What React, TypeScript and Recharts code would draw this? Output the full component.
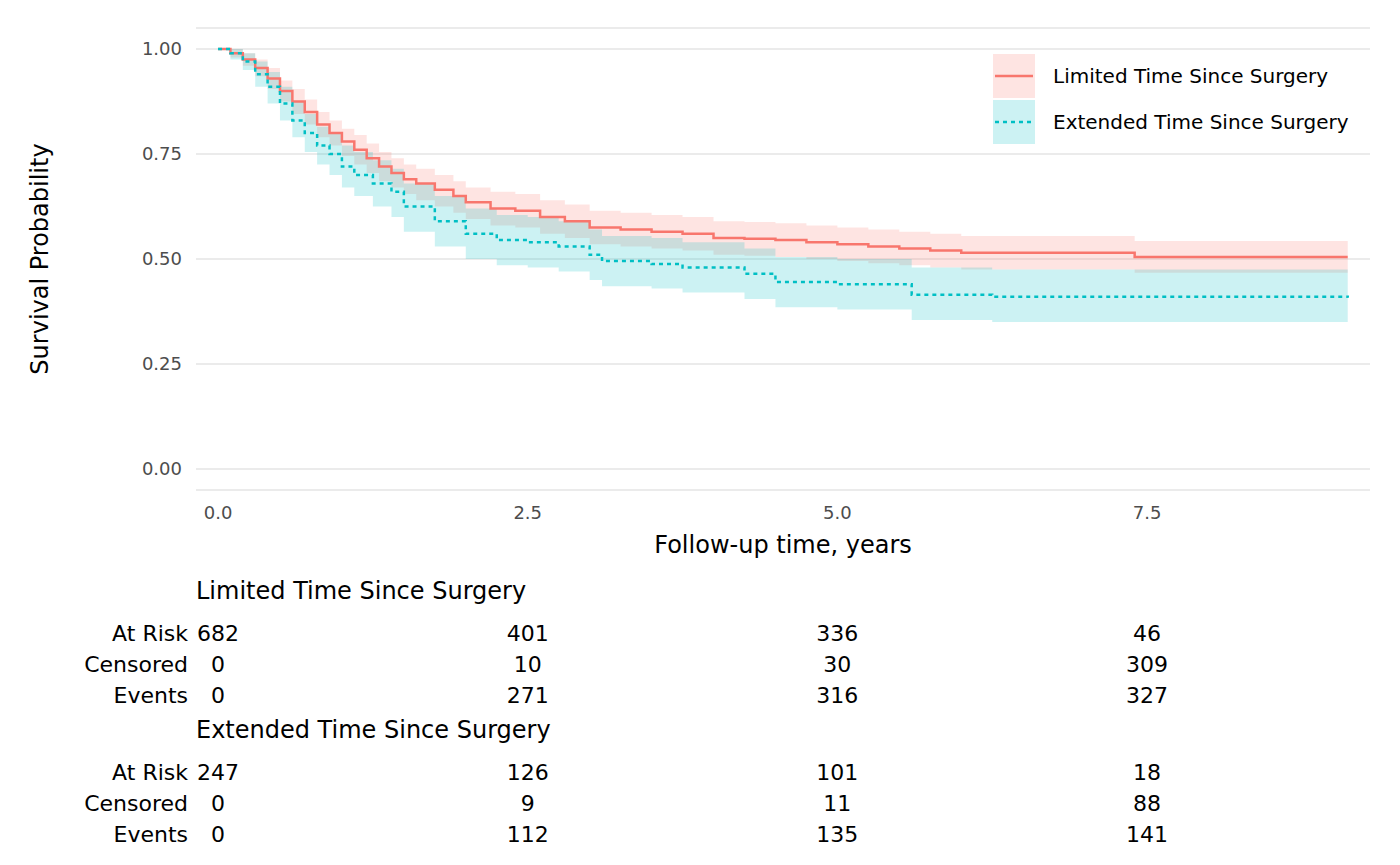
import { Area, ComposedChart, CartesianGrid, Line, XAxis, YAxis } from "recharts";

const limTime = [0, 0.1, 0.2, 0.3, 0.4, 0.5, 0.6, 0.7, 0.8, 0.9, 1.0, 1.1, 1.2, 1.3, 1.4, 1.5, 1.6, 1.75, 1.9, 2.0, 2.2, 2.4, 2.6, 2.8, 3.0, 3.25, 3.5, 3.75, 4.0, 4.25, 4.5, 4.75, 5.0, 5.25, 5.5, 5.75, 6.0, 6.5, 7.4, 9.12];
const limSurv = [1, 0.99, 0.975, 0.955, 0.93, 0.9, 0.875, 0.85, 0.82, 0.8, 0.78, 0.76, 0.74, 0.72, 0.705, 0.69, 0.68, 0.665, 0.65, 0.635, 0.62, 0.615, 0.6, 0.59, 0.575, 0.57, 0.565, 0.56, 0.55, 0.548, 0.545, 0.54, 0.535, 0.53, 0.525, 0.52, 0.515, 0.515, 0.505, 0.505];
const limLo = [1, 0.98, 0.96, 0.935, 0.905, 0.875, 0.845, 0.82, 0.79, 0.77, 0.745, 0.725, 0.705, 0.685, 0.67, 0.655, 0.64, 0.625, 0.61, 0.595, 0.58, 0.575, 0.56, 0.55, 0.535, 0.53, 0.525, 0.52, 0.51, 0.508, 0.505, 0.5, 0.495, 0.49, 0.485, 0.48, 0.475, 0.475, 0.467, 0.467];
const limHi = [1, 1, 0.99, 0.975, 0.955, 0.925, 0.905, 0.88, 0.85, 0.83, 0.81, 0.795, 0.775, 0.755, 0.74, 0.725, 0.715, 0.7, 0.685, 0.67, 0.66, 0.655, 0.64, 0.63, 0.615, 0.61, 0.605, 0.6, 0.59, 0.588, 0.585, 0.58, 0.575, 0.57, 0.565, 0.56, 0.555, 0.555, 0.543, 0.543];

const extTime = [0, 0.1, 0.2, 0.3, 0.4, 0.5, 0.6, 0.7, 0.8, 0.9, 1.0, 1.1, 1.25, 1.4, 1.5, 1.75, 2.0, 2.25, 2.5, 2.75, 3.0, 3.1, 3.5, 3.75, 4.25, 4.5, 5.0, 5.6, 6.25, 9.12];
const extSurv = [1, 0.99, 0.97, 0.94, 0.91, 0.87, 0.83, 0.8, 0.77, 0.75, 0.72, 0.7, 0.68, 0.66, 0.625, 0.59, 0.56, 0.545, 0.54, 0.53, 0.51, 0.495, 0.488, 0.48, 0.465, 0.445, 0.44, 0.415, 0.41, 0.408];
const extLo = [1, 0.975, 0.95, 0.91, 0.87, 0.83, 0.79, 0.755, 0.725, 0.7, 0.67, 0.65, 0.625, 0.6, 0.565, 0.53, 0.5, 0.485, 0.48, 0.47, 0.45, 0.435, 0.43, 0.42, 0.405, 0.385, 0.38, 0.355, 0.35, 0.35];
const extHi = [1, 1, 0.99, 0.97, 0.945, 0.91, 0.875, 0.845, 0.815, 0.8, 0.77, 0.755, 0.735, 0.715, 0.68, 0.65, 0.62, 0.605, 0.6, 0.59, 0.57, 0.555, 0.55, 0.54, 0.525, 0.505, 0.5, 0.48, 0.475, 0.475];

const xTicks = [0, 2.5, 5, 7.5];
const yTicks = [0, 0.25, 0.5, 0.75, 1];
const groups = ["Limited Time Since Surgery", "Extended Time Since Surgery"];
const rowLabels = ["At Risk", "Censored", "Events"];
const limTable = [[682, 401, 336, 46], [0, 10, 30, 309], [0, 271, 316, 327]];
const extTable = [[247, 126, 101, 18], [0, 9, 11, 88], [0, 112, 135, 141]];

const RED = "#F8766D";
const CYAN = "#00BFC4";
const FONT = "'DejaVu Sans', sans-serif";

const build = (t: number[], s: number[], lo: number[], hi: number[]) =>
  t.map((x, i) => ({ t: x, s: s[i], ci: [lo[i], hi[i]] }));

const limData = build(limTime, limSurv, limLo, limHi);
const extData = build(extTime, extSurv, extLo, extHi);

// x pixel of a time value (0 at 218, 7.5 at 1147)
const px = (v: number) => 218 + (v * (1147 - 218)) / 7.5;

export default function App() {
  const tables = [limTable, extTable];
  return (
    <div style={{ position: "relative", width: 1400, height: 865, margin: -8, fontFamily: FONT, background: "#fff" }}>
      <ComposedChart width={1400} height={560} margin={{ top: 28, right: 30, left: 0, bottom: 0 }}>
        <CartesianGrid stroke="#ebebeb" strokeWidth={2} vertical={false} />
        <XAxis
          type="number"
          dataKey="t"
          domain={[-0.178, 9.3]}
          ticks={xTicks}
          tickFormatter={(v) => Number(v).toFixed(1)}
          axisLine={false}
          tickLine={false}
          tickSize={0}
          tickMargin={16}
          height={70}
          allowDataOverflow
          tick={{ fontSize: 18, fill: "#4d4d4d", fontFamily: FONT }}
        />
        <YAxis
          type="number"
          domain={[-0.05, 1.05]}
          ticks={yTicks}
          tickFormatter={(v) => Number(v).toFixed(2)}
          axisLine={false}
          tickLine={false}
          tickSize={0}
          tickMargin={14}
          width={196}
          allowDataOverflow
          tick={{ fontSize: 18, fill: "#4d4d4d", fontFamily: FONT }}
        />
        <Area data={limData} dataKey="ci" type="stepAfter" stroke="none" fill={RED} fillOpacity={0.2} isAnimationActive={false} />
        <Area data={extData} dataKey="ci" type="stepAfter" stroke="none" fill={CYAN} fillOpacity={0.2} isAnimationActive={false} />
        <Line data={limData} dataKey="s" type="stepAfter" stroke={RED} strokeWidth={2.5} dot={false} isAnimationActive={false} />
        <Line data={extData} dataKey="s" type="stepAfter" stroke={CYAN} strokeWidth={2.5} strokeDasharray="4 4" dot={false} isAnimationActive={false} />
      </ComposedChart>

      <div style={{ position: "absolute", left: 40, top: 259, transform: "translate(-50%,-50%) rotate(-90deg)", fontSize: 24, whiteSpace: "nowrap" }}>
        Survival Probability
      </div>
      <div style={{ position: "absolute", left: 783, top: 545, transform: "translate(-50%,-50%)", fontSize: 24, whiteSpace: "nowrap" }}>
        Follow-up time, years
      </div>

      {[RED, CYAN].map((c, i) => (
        <div key={i} style={{ position: "absolute", left: 993, top: 54 + i * 46, display: "flex", alignItems: "center" }}>
          <div style={{ width: 42, height: 44, background: c, opacity: 0.2 }} />
          <svg width={42} height={44} style={{ position: "absolute", left: 0, top: 0 }}>
            <line x1={2} x2={40} y1={22} y2={22} stroke={c} strokeWidth={2.5} strokeDasharray={i ? "4 4" : undefined} />
          </svg>
          <span style={{ marginLeft: 18, fontSize: 20, whiteSpace: "nowrap" }}>{groups[i]}</span>
        </div>
      ))}

      {groups.map((g, gi) => {
        const top = 591 + gi * 139;
        return (
          <div key={g}>
            <div style={{ position: "absolute", left: 196, top, transform: "translateY(-50%)", fontSize: 24, whiteSpace: "nowrap" }}>{g}</div>
            {rowLabels.map((r, ri) => (
              <div key={r}>
                <div style={{ position: "absolute", right: 1400 - 188, top: top + 42 + ri * 31, transform: "translateY(-50%)", fontSize: 22, whiteSpace: "nowrap" }}>{r}</div>
                {tables[gi][ri].map((v, ci) => (
                  <div key={ci} style={{ position: "absolute", left: px(xTicks[ci]), top: top + 42 + ri * 31, transform: "translate(-50%,-50%)", fontSize: 22 }}>{v}</div>
                ))}
              </div>
            ))}
          </div>
        );
      })}
    </div>
  );
}
